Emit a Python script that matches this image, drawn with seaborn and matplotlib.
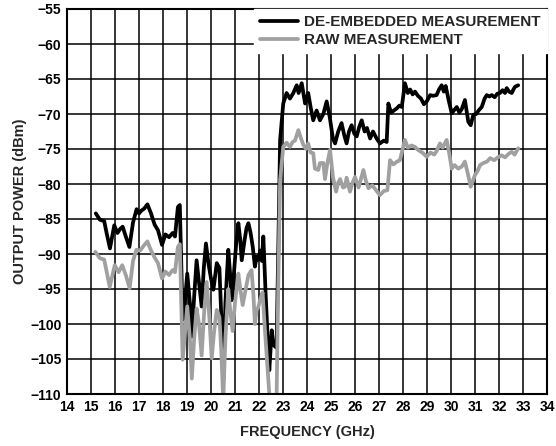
import numpy as np
import pandas as pd
import matplotlib
matplotlib.use("Agg")
import matplotlib.pyplot as plt
import seaborn as sns

freq_deemb = [15.20, 15.37, 15.55, 15.65, 15.79, 15.97, 16.10, 16.22, 16.32, 16.45,
              16.60, 16.75, 16.90, 17.00, 17.10, 17.22, 17.35, 17.50, 17.65, 17.79,
              17.96, 18.10, 18.25, 18.40, 18.50, 18.62, 18.70, 18.82, 18.92, 19.01,
              19.12, 19.20, 19.30, 19.40, 19.50, 19.61, 19.70, 19.79, 19.90, 20.00,
              20.10, 20.24, 20.35, 20.43, 20.51, 20.60, 20.72, 20.80, 20.86, 20.95,
              21.05, 21.14, 21.22, 21.28, 21.40, 21.48, 21.56, 21.65, 21.74, 21.83,
              21.90, 21.97, 22.05, 22.12, 22.18, 22.28, 22.36, 22.43, 22.53, 22.60,
              22.73, 22.80, 22.88, 23.01, 23.15, 23.29, 23.43, 23.57, 23.65, 23.78,
              23.92, 24.05, 24.15, 24.26, 24.40, 24.54, 24.68, 24.82, 24.95, 25.08,
              25.17, 25.30, 25.44, 25.55, 25.65, 25.75, 25.86, 25.97, 26.07, 26.18,
              26.28, 26.40, 26.50, 26.63, 26.75, 26.90, 27.04, 27.20, 27.32, 27.39,
              27.50, 27.62, 27.74, 27.85, 27.95, 28.08, 28.20, 28.30, 28.40, 28.50,
              28.62, 28.75, 28.87, 28.99, 29.13, 29.25, 29.40, 29.50, 29.61, 29.70,
              29.78, 29.90, 30.03, 30.12, 30.24, 30.35, 30.45, 30.58, 30.72, 30.82,
              30.93, 31.05, 31.15, 31.28, 31.40, 31.49, 31.60, 31.70, 31.82, 31.93,
              32.04, 32.15, 32.25, 32.32, 32.42, 32.53, 32.60, 32.67, 32.80]
power_deemb = [-84.2, -85.1, -85.3, -87.0, -89.2, -85.9, -87.0, -86.4, -86.1, -87.5,
               -89.0, -85.5, -83.6, -84.2, -83.8, -83.5, -82.9, -84.2, -85.8, -86.6,
               -88.7, -87.2, -87.6, -87.0, -87.5, -83.3, -83.0, -99.4, -96.5, -92.8,
               -97.0, -101.8, -96.0, -90.9, -94.0, -97.5, -92.0, -88.5, -91.5, -93.5,
               -95.1, -91.3, -92.0, -99.0, -107.8, -97.0, -89.4, -93.0, -96.6, -93.0,
               -88.5, -85.6, -88.0, -90.9, -88.0, -86.3, -85.6, -87.0, -89.0, -91.8,
               -90.4, -90.8, -89.5, -91.0, -87.5, -96.0, -102.0, -106.6, -100.9, -103.0,
               -103.4, -90.0, -73.7, -68.5, -67.0, -67.8, -67.0, -65.9, -67.0, -65.6,
               -68.5, -67.0, -69.0, -70.9, -69.5, -70.9, -70.0, -68.2, -70.5, -73.5,
               -74.2, -72.5, -71.3, -73.0, -74.2, -72.5, -71.6, -72.8, -73.2, -71.8,
               -70.9, -72.5, -72.0, -73.5, -72.5, -73.5, -74.2, -73.8, -74.0, -68.5,
               -69.8, -69.5, -69.2, -68.8, -69.0, -65.6, -67.0, -66.5, -67.2, -66.8,
               -67.4, -67.8, -68.6, -68.2, -67.3, -67.4, -67.3, -66.5, -65.9, -66.8,
               -66.0, -68.0, -69.9, -69.5, -69.0, -69.8, -69.3, -68.0, -71.1, -71.6,
               -70.1, -70.0, -69.5, -69.0, -67.8, -67.3, -67.5, -67.3, -67.6, -67.1,
               -67.0, -66.6, -67.0, -66.3, -66.8, -67.0, -66.5, -66.1, -65.9]

# raw measurement
freq_raw = [15.18, 15.37, 15.55, 15.65, 15.78, 15.99, 16.15, 16.30, 16.45, 16.61,
            16.75, 16.89, 17.05, 17.20, 17.35, 17.50, 17.65, 17.79, 17.96, 18.10,
            18.25, 18.40, 18.50, 18.62, 18.70, 18.82, 18.92, 19.01, 19.12, 19.20,
            19.30, 19.40, 19.50, 19.61, 19.72, 19.82, 19.93, 20.03, 20.13, 20.24,
            20.35, 20.43, 20.51, 20.60, 20.72, 20.80, 20.90, 21.00, 21.14, 21.22,
            21.32, 21.45, 21.56, 21.69, 21.77, 21.83, 21.90, 21.97, 22.05, 22.15,
            22.25, 22.39, 22.45, 22.53, 22.62, 22.73, 22.80, 22.88, 23.01, 23.15,
            23.29, 23.40, 23.50, 23.64, 23.75, 23.85, 23.96, 24.05, 24.15, 24.26,
            24.33, 24.47, 24.54, 24.68, 24.75, 24.85, 24.96, 25.08, 25.21, 25.30,
            25.38, 25.50, 25.58, 25.65, 25.79, 25.90, 26.00, 26.15, 26.35, 26.45,
            26.56, 26.72, 26.90, 27.04, 27.20, 27.35, 27.46, 27.60, 27.75, 27.87,
            28.08, 28.20, 28.35, 28.50, 28.65, 28.80, 28.99, 29.15, 29.30, 29.40,
            29.54, 29.65, 29.82, 29.92, 30.03, 30.15, 30.30, 30.45, 30.58, 30.70,
            30.82, 31.00, 31.10, 31.21, 31.35, 31.50, 31.63, 31.80, 31.95, 32.11,
            32.25, 32.40, 32.53, 32.65, 32.80]
power_raw = [-89.7, -90.6, -90.8, -92.5, -94.7, -91.6, -92.6, -91.6, -93.0, -94.9,
             -91.0, -89.4, -89.5, -88.8, -88.2, -89.5, -90.5, -91.3, -93.5, -92.5,
             -93.0, -92.3, -92.6, -89.0, -88.6, -105.1, -101.0, -97.5, -102.0, -107.8,
             -102.0, -97.8, -100.0, -104.5, -98.0, -94.0, -99.0, -104.9, -101.0, -98.0,
             -99.0, -104.0, -111.0, -102.0, -95.0, -98.0, -101.0, -97.0, -92.8, -95.0,
             -97.3, -95.0, -93.0, -92.3, -96.0, -100.0, -98.0, -97.6, -96.5, -95.5,
             -101.0, -108.0, -111.0, -112.0, -110.5, -111.0, -95.0, -79.4, -74.7, -74.1,
             -74.7, -74.0, -73.8, -72.3, -73.5, -74.4, -75.0, -74.2, -75.5, -75.6,
             -77.8, -78.0, -77.0, -77.0, -79.3, -77.0, -75.1, -79.0, -81.1, -79.8,
             -79.3, -80.5, -80.4, -79.1, -81.1, -79.8, -79.0, -80.5, -78.0, -79.5,
             -80.6, -80.2, -81.0, -81.6, -81.0, -80.9, -76.6, -77.2, -76.8, -76.6,
             -73.7, -74.8, -74.5, -74.7, -75.2, -75.5, -76.1, -75.5, -75.8, -75.3,
             -74.2, -74.8, -73.7, -75.5, -77.8, -77.3, -77.8, -77.5, -76.8, -78.5,
             -80.4, -78.7, -78.2, -77.3, -77.0, -76.8, -76.3, -76.6, -76.2, -75.9,
             -76.2, -75.7, -75.4, -75.8, -74.9]

series_names = ["DE-EMBEDDED MEASUREMENT", "RAW MEASUREMENT"]
series_colors = ["#000000", "#a0a0a0"]
x_ticks = list(range(14, 35))
y_ticks = list(range(-110, -54, 5))

df = pd.concat([
    pd.DataFrame({"freq": freq_deemb, "power": power_deemb, "series": series_names[0]}),
    pd.DataFrame({"freq": freq_raw, "power": power_raw, "series": series_names[1]}),
], ignore_index=True)

sns.set_theme(style="white")
plt.rcParams["font.family"] = ["Liberation Sans", "DejaVu Sans"]
plt.rcParams["font.weight"] = "bold"

fig, ax = plt.subplots(figsize=(5.56, 4.46), dpi=100)
fig.subplots_adjust(left=67/556, right=547/556, top=1-9/446, bottom=1-394/446)

sns.lineplot(data=df, x="freq", y="power", hue="series", hue_order=series_names,
             palette=dict(zip(series_names, series_colors)), estimator=None,
             linewidth=2.7, ax=ax)

ax.set_xlim(14, 34)
ax.set_ylim(-110, -55)
ax.set_xticks(x_ticks)
ax.set_yticks(y_ticks)
ax.grid(True, color="black", linewidth=1.1)
ax.set_axisbelow(True)
for s in ax.spines.values():
    s.set_color("black")
    s.set_linewidth(1.5)
ax.tick_params(length=0, pad=4, labelsize=10, colors="black")
for lab in ax.get_xticklabels() + ax.get_yticklabels():
    lab.set_fontweight("bold")

ax.set_xlabel("FREQUENCY (GHz)", fontsize=10.5, fontweight="bold", labelpad=8)
ax.set_ylabel("OUTPUT POWER (dBm)", fontsize=10.5, fontweight="bold", labelpad=2)

leg = ax.legend(loc="upper right", bbox_to_anchor=(1, 1), borderaxespad=0,
                frameon=True, fancybox=False, framealpha=1, facecolor="white",
                edgecolor="white", handlelength=2.5, handletextpad=0.4,
                labelspacing=0.25, borderpad=0.4,
                prop={"size": 11, "weight": "bold"})
for line in leg.get_lines():
    line.set_linewidth(2.7)

fig.savefig("out.png", dpi=100)
